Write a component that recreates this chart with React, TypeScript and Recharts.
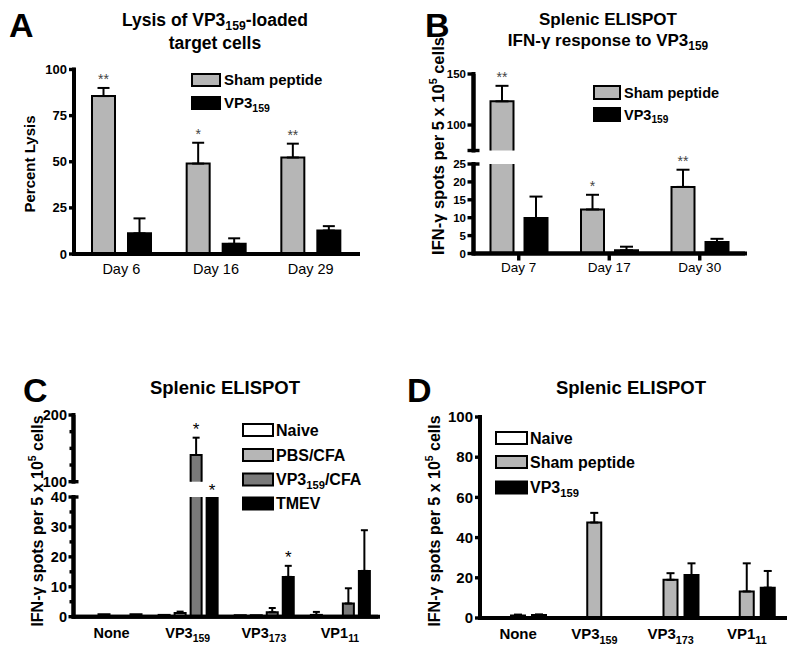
import React from 'react';
import { BarChart, Bar, XAxis, YAxis, ErrorBar } from 'recharts';

const FONT = "'Liberation Sans', Arial, Helvetica, sans-serif";
const LIGHT = '#b6b6b6';
const DARK = '#7a7a7a';

// ---------- Panel A ----------
const daysA = ['Day 6', 'Day 16', 'Day 29'];
const shamA = [85.6, 49.0, 52.3];
const shamAErr = [4.4, 11.3, 7.5];
const vp3A = [11.2, 5.5, 12.7];
const vp3AErr = [8.1, 3.0, 2.4];
const sigA = ['**', '*', '**'];
const ticksA = [0, 25, 50, 75, 100];

// ---------- Panel B ----------
const daysB = ['Day 7', 'Day 17', 'Day 30'];
const shamB = [123.2, 12.3, 18.6];
const shamBErr = [15.2, 4.1, 4.8];
const vp3B = [9.9, 0.9, 3.2];
const vp3BErr = [6.0, 1.0, 0.9];
const sigB = ['**', '*', '**'];
const ticksBUpper = [75, 100, 150];
const ticksBLower = [0, 5, 10, 15, 20, 25];

// ---------- Panels C & D categories ----------
const peptideNames = ['None', 'VP3', 'VP3', 'VP1'];
const peptideSubs = ['', '159', '173', '11'];
const peptideCats = peptideNames.map((n, i) => n + peptideSubs[i]);

// ---------- Panel C ----------
const naiveC = [0, 0.6, 0.5, 0.6];
const naiveCErr = [0, 0, 0, 1.0];
const pbsC = [0.8, 1.2, 0.5, 0];
const pbsCErr = [0, 0.5, 0, 0];
const vp3cfaC = [0, 140, 1.5, 4.4];
const vp3cfaCErr = [0, 26, 1.4, 5.1];
const tmevC = [0.8, 70, 13.3, 15.3];
const tmevCErr = [0, 0, 3.7, 13.6];
const sigVp3cfaC = ['', '*', '', ''];
const sigTmevC = ['', '*', '*', ''];
const ticksCUpper = [100, 125, 150, 175, 200];
const ticksCLower = [0, 5, 10, 15, 20, 25, 30, 35, 40];

// ---------- Panel D ----------
const naiveD = [0, 0.5, 0.5, 0];
const naiveDErr = [0, 0, 0, 0];
const shamD = [1.2, 47.5, 19.0, 13.2];
const shamDErr = [0.5, 4.8, 3.3, 14.0];
const vp3D = [1.5, 0, 21.4, 15.1];
const vp3DErr = [0.3, 0, 5.8, 8.3];
const ticksD = [0, 20, 40, 60, 80, 100];

type Seg = { role: 'single' | 'upper' | 'lower'; min: number; max: number; upperMin?: number };
type Series = {
  key: string; name: string; sub?: string; tail?: string;
  values: number[]; errs: number[]; sig?: string[]; fill: string;
};
type StarStyle = { fs: number; gap: number; clipGap: number; color: string };

const seriesA: Series[] = [
  { key: 'sham', name: 'Sham peptide', values: shamA, errs: shamAErr, sig: sigA, fill: LIGHT },
  { key: 'vp3', name: 'VP3', sub: '159', values: vp3A, errs: vp3AErr, fill: '#000' },
];
const seriesB: Series[] = [
  { key: 'sham', name: 'Sham peptide', values: shamB, errs: shamBErr, sig: sigB, fill: LIGHT },
  { key: 'vp3', name: 'VP3', sub: '159', values: vp3B, errs: vp3BErr, fill: '#000' },
];
const seriesC: Series[] = [
  { key: 'naive', name: 'Naive', values: naiveC, errs: naiveCErr, fill: '#fff' },
  { key: 'pbs', name: 'PBS/CFA', values: pbsC, errs: pbsCErr, fill: LIGHT },
  { key: 'vp3cfa', name: 'VP3', sub: '159', tail: '/CFA', values: vp3cfaC, errs: vp3cfaCErr, sig: sigVp3cfaC, fill: DARK },
  { key: 'tmev', name: 'TMEV', values: tmevC, errs: tmevCErr, sig: sigTmevC, fill: '#000' },
];
const seriesD: Series[] = [
  { key: 'naive', name: 'Naive', values: naiveD, errs: naiveDErr, fill: '#fff' },
  { key: 'sham', name: 'Sham peptide', values: shamD, errs: shamDErr, fill: LIGHT },
  { key: 'vp3', name: 'VP3', sub: '159', values: vp3D, errs: vp3DErr, fill: '#000' },
];

function buildData(cats: string[], series: Series[], seg: Seg) {
  return cats.map((cat, i) => {
    const row: Record<string, any> = { cat };
    series.forEach((s) => {
      const v = s.values[i];
      const e = s.errs[i];
      let drawn: number | null = v;
      let openTop = false;
      let openBottom = false;
      let hasErr = e > 0;
      let sig = s.sig ? s.sig[i] : '';
      if (seg.role === 'upper') {
        if (v > seg.min) openBottom = true;
        else { drawn = null; hasErr = false; sig = ''; }
      } else if (seg.role === 'lower' && v > seg.max) {
        drawn = seg.max; openTop = true; hasErr = false;
        if (seg.upperMin !== undefined && v > seg.upperMin) sig = '';
      }
      row[s.key] = drawn;
      row[s.key + '_eb'] = hasErr ? [0, e] : null;
      row[s.key + '_e'] = hasErr ? e : 0;
      row[s.key + '_s'] = sig;
      row[s.key + '_ot'] = openTop;
      row[s.key + '_ob'] = openBottom;
    });
    return row;
  });
}

const makeShape = (key: string, base: number, star: StarStyle) => (props: any) => {
  const { x, y, width, height, payload, fill } = props;
  if (!payload || payload[key] == null || !(height > 0) || !(width > 0)) return <g />;
  const v = payload[key];
  const ppu = height / (v - base);
  const topY = y - payload[key + '_e'] * ppu;
  const x2 = x + width;
  const yb = y + height;
  let d: string;
  if (payload[key + '_ot']) d = `M${x},${y}V${yb}H${x2}V${y}`;
  else if (payload[key + '_ob']) d = `M${x},${yb}V${y}H${x2}V${yb}`;
  else d = `M${x},${y}H${x2}V${yb}H${x}Z`;
  const sig = payload[key + '_s'];
  return (
    <g>
      <rect x={x} y={y} width={width} height={height} fill={fill} />
      <path d={d} fill="none" stroke="#000" strokeWidth={2} />
      {sig ? (
        <text x={x + width / 2} y={topY - (payload[key + '_ot'] ? star.clipGap : star.gap)} textAnchor="middle"
          fontSize={star.fs} fill={star.color} fontFamily={FONT}>{sig}</text>
      ) : null}
    </g>
  );
};

type YTickCfg = { labels: number[]; caps?: number[]; len: number; minorLen: number; fs: number; gap: number; bold: boolean };
const makeYTick = (cfg: YTickCfg) => (props: any) => {
  const { x, y, payload } = props;
  const v = payload.value;
  const isLabel = cfg.labels.indexOf(v) >= 0;
  const isCap = cfg.caps ? cfg.caps.indexOf(v) >= 0 : false;
  const len = isLabel || isCap ? cfg.len : cfg.minorLen;
  const right = isCap ? x + cfg.len : x + 1;
  return (
    <g>
      <rect x={x - len} y={y - 1.7} width={right - (x - len)} height={3.4} fill="#000" />
      {isLabel ? (
        <text x={x - len - cfg.gap} y={y} dy={cfg.fs * 0.35} textAnchor="end" fontSize={cfg.fs}
          fontWeight={cfg.bold ? 'bold' : 'normal'} fontFamily={FONT} fill="#000">{v}</text>
      ) : null}
    </g>
  );
};

type XTickCfg = { fs: number; bold: boolean; baseline: number; tickLen?: number; cats: string[]; names: string[]; subs?: string[] };
const makeXTick = (cfg: XTickCfg) => (props: any) => {
  const { x, y, payload } = props;
  const i = cfg.cats.indexOf(payload.value);
  const name = i >= 0 ? cfg.names[i] : String(payload.value);
  const sub = cfg.subs && i >= 0 ? cfg.subs[i] : '';
  return (
    <g>
      {cfg.tickLen ? <rect x={x - 1.7} y={y} width={3.4} height={cfg.tickLen} fill="#000" /> : null}
      <text x={x} y={y + cfg.baseline} textAnchor="middle" fontSize={cfg.fs} fontWeight={cfg.bold ? 'bold' : 'normal'}
        fontFamily={FONT} fill="#000">
        <tspan>{name}</tspan>
        {sub ? <tspan dy={cfg.fs * 0.3} fontSize={cfg.fs * 0.72}>{sub}</tspan> : null}
      </text>
    </g>
  );
};

type Box = { left: number; top: number; w: number; h: number };
type Plot = { x0: number; x1: number; y0: number; y1: number };

function SegChart(p: {
  box: Box; plot: Plot; cats: string[]; series: Series[]; seg: Seg; yTicks: number[];
  yTick: (props: any) => any; xTick?: (props: any) => any; barSize: number; barGap: number; capW: number; star: StarStyle;
}) {
  const { box, plot, seg } = p;
  const data = buildData(p.cats, p.series, seg);
  const base = seg.role === 'upper' ? seg.min : 0;
  const yW = 40;
  const showX = !!p.xTick;
  const xH = showX ? 30 : 0;
  const margin = {
    left: plot.x0 - box.left - yW,
    right: box.left + box.w - plot.x1,
    top: plot.y0 - box.top,
    bottom: box.top + box.h - plot.y1 - xH,
  };
  const axisLine = { stroke: '#000', strokeWidth: 4 };
  return (
    <div style={{ position: 'absolute', left: box.left, top: box.top, width: box.w, height: box.h }}>
      <BarChart width={box.w} height={box.h} data={data} margin={margin} barGap={p.barGap}>
        <XAxis dataKey="cat" hide={!showX} height={xH} interval={0} tickSize={0} tickMargin={0} tickLine={false}
          axisLine={axisLine} tick={showX ? p.xTick : false} />
        <YAxis type="number" domain={[seg.min, seg.max]} ticks={p.yTicks} interval={0} width={yW} tickSize={0}
          tickMargin={0} tickLine={false} axisLine={axisLine} tick={p.yTick} />
        {p.series.map((s) => (
          <Bar key={s.key} dataKey={s.key} fill={s.fill} barSize={p.barSize} isAnimationActive={false}
            shape={makeShape(s.key, base, p.star)}>
            <ErrorBar dataKey={s.key + '_eb'} width={p.capW} stroke="#000" strokeWidth={2} direction="y" />
          </Bar>
        ))}
      </BarChart>
    </div>
  );
}

function Rich({ name, sub, tail, fs }: { name: string; sub?: string; tail?: string; fs: number }) {
  return (
    <>
      <tspan>{name}</tspan>
      {sub ? <tspan dy={fs * 0.25} fontSize={fs * 0.7}>{sub}</tspan> : null}
      {sub && tail ? <tspan dy={-fs * 0.25} fontSize={fs}>{tail}</tspan> : null}
    </>
  );
}

function LegendBlock({ x, ys, w, h, textX, fs, series }: { x: number; ys: number[]; w: number; h: number; textX: number; fs: number; series: Series[] }) {
  return (
    <g>
      {series.map((s, i) => (
        <g key={s.key}>
          <rect x={x} y={ys[i]} width={w} height={h} fill={s.fill} stroke="#000" strokeWidth={2} />
          <text x={textX} y={ys[i] + h / 2 + fs * 0.36} fontSize={fs} fontWeight="bold" fontFamily={FONT} fill="#000">
            <Rich name={s.name} sub={s.sub} tail={s.tail} fs={fs} />
          </text>
        </g>
      ))}
    </g>
  );
}

function SpotsLabel({ cx, cy, fs }: { cx: number; cy: number; fs: number }) {
  return (
    <text transform={`translate(${cx},${cy}) rotate(-90)`} textAnchor="middle" fontSize={fs} fontWeight="bold" fontFamily={FONT}>
      <tspan dy={fs * 0.35}>IFN-γ spots per 5 x 10</tspan>
      <tspan dy={-fs * 0.4} fontSize={fs * 0.65}>5</tspan>
      <tspan dy={fs * 0.4} fontSize={fs}> cells</tspan>
    </text>
  );
}

// Axis frame reinforcement along each panel's plot edges
function Frame({ plot, xAxis = true }: { plot: Plot; xAxis?: boolean }) {
  return (
    <g stroke="#000" strokeWidth={4} strokeLinecap="square">
      <line x1={plot.x0} x2={plot.x0} y1={plot.y0} y2={plot.y1} />
      {xAxis ? <line x1={plot.x0} x2={plot.x1} y1={plot.y1} y2={plot.y1} /> : null}
    </g>
  );
}

const starAB: StarStyle = { fs: 14, gap: 4, clipGap: 2, color: '#444' };
const starC: StarStyle = { fs: 17, gap: 3, clipGap: 1.5, color: '#000' };

export default function App() {
  const boxA = { left: 0, top: 0, w: 400, h: 300 };
  const plotA = { x0: 74, x1: 358, y0: 69.5, y1: 254 };
  const boxB = { left: 400, top: 0, w: 394, h: 300 };
  const plotBu = { x0: 473.5, x1: 745, y0: 74, y1: 150.5 };
  const plotBl = { x0: 473.5, x1: 745, y0: 164, y1: 253.5 };
  const boxC = { left: 0, top: 310, w: 400, h: 340 };
  const plotCu = { x0: 73.5, x1: 378, y0: 415, y1: 481.7 };
  const plotCl = { x0: 73.5, x1: 378, y0: 497, y1: 616.7 };
  const boxD = { left: 400, top: 310, w: 394, h: 340 };
  const plotD = { x0: 480, x1: 785, y0: 417, y1: 618 };

  return (
    <div style={{ position: 'absolute', left: 0, top: 0, width: 794, height: 650, background: '#fff', fontFamily: FONT }}>
      <SegChart box={boxD} plot={plotD} cats={peptideCats} series={seriesD} seg={{ role: 'single', min: 0, max: 100 }}
        yTicks={ticksD} yTick={makeYTick({ labels: ticksD, len: 5, minorLen: 4, fs: 15, gap: 2, bold: true })}
        xTick={makeXTick({ fs: 15, bold: true, baseline: 21, cats: peptideCats, names: peptideNames, subs: peptideSubs })}
        barSize={14} barGap={7} capW={4} star={starC} />

      <SegChart box={boxC} plot={plotCu} cats={peptideCats} series={seriesC} seg={{ role: 'upper', min: 100, max: 200 }}
        yTicks={ticksCUpper} yTick={makeYTick({ labels: [100, 200], caps: [100], len: 5, minorLen: 4, fs: 14.5, gap: 1.5, bold: true })}
        barSize={11} barGap={5} capW={3.5} star={starC} />
      <SegChart box={boxC} plot={plotCl} cats={peptideCats} series={seriesC} seg={{ role: 'lower', min: 0, max: 40, upperMin: 100 }}
        yTicks={ticksCLower} yTick={makeYTick({ labels: [0, 10, 20, 30, 40], caps: [40], len: 5, minorLen: 4, fs: 14.5, gap: 1.5, bold: true })}
        xTick={makeXTick({ fs: 14.5, bold: true, baseline: 21, cats: peptideCats, names: peptideNames, subs: peptideSubs })}
        barSize={11} barGap={5} capW={3.5} star={starC} />

      <SegChart box={boxB} plot={plotBu} cats={daysB} series={seriesB} seg={{ role: 'upper', min: 75, max: 150 }}
        yTicks={ticksBUpper} yTick={makeYTick({ labels: [100, 150], caps: [75], len: 6, minorLen: 4, fs: 11.5, gap: 1.5, bold: true })}
        barSize={23} barGap={11} capW={6.5} star={starAB} />
      <SegChart box={boxB} plot={plotBl} cats={daysB} series={seriesB} seg={{ role: 'lower', min: 0, max: 25, upperMin: 75 }}
        yTicks={ticksBLower} yTick={makeYTick({ labels: ticksBLower, caps: [25], len: 6, minorLen: 4, fs: 11.5, gap: 1.5, bold: true })}
        xTick={makeXTick({ fs: 13.5, bold: false, baseline: 18, tickLen: 7, cats: daysB, names: daysB })}
        barSize={23} barGap={11} capW={6.5} star={starAB} />

      <SegChart box={boxA} plot={plotA} cats={daysA} series={seriesA} seg={{ role: 'single', min: 0, max: 100 }}
        yTicks={ticksA} yTick={makeYTick({ labels: ticksA, len: 5, minorLen: 5, fs: 13, gap: 2, bold: true })}
        xTick={makeXTick({ fs: 14.5, bold: false, baseline: 20, cats: daysA, names: daysA })}
        barSize={23} barGap={13} capW={6} star={starAB} />

      <svg width={794} height={650} style={{ position: 'absolute', left: 0, top: 0, pointerEvents: 'none' }}>
        <Frame plot={plotA} />
        <Frame plot={plotBu} xAxis={false} />
        <Frame plot={plotBl} />
        <Frame plot={plotCu} xAxis={false} />
        <Frame plot={plotCl} />
        <Frame plot={plotD} />
        <g fontFamily={FONT} fontWeight="bold" fill="#000">
          <text x={9} y={37} fontSize={34}>A</text>
          <text x={425} y={37} fontSize={34}>B</text>
          <text x={23} y={402} fontSize={34}>C</text>
          <text x={407} y={402} fontSize={34}>D</text>

          <text x={215} y={25.5} fontSize={17.5} textAnchor="middle"><Rich name="Lysis of VP3" sub="159" tail="-loaded" fs={17.5} /></text>
          <text x={215} y={49} fontSize={17.5} textAnchor="middle">target cells</text>
          <text x={608} y={25} fontSize={17} textAnchor="middle">Splenic ELISPOT</text>
          <text x={608} y={45.5} fontSize={17} textAnchor="middle"><Rich name="IFN-γ response to VP3" sub="159" fs={17} /></text>
          <text x={225} y={394} fontSize={18.5} textAnchor="middle">Splenic ELISPOT</text>
          <text x={631} y={394} fontSize={18.5} textAnchor="middle">Splenic ELISPOT</text>

          <text transform="translate(30,164) rotate(-90)" textAnchor="middle" fontSize={15} dy={15 * 0.35}>Percent Lysis</text>
        </g>
        <SpotsLabel cx={438} cy={146} fs={16.5} />
        <SpotsLabel cx={37} cy={521} fs={16} />
        <SpotsLabel cx={434} cy={521} fs={16} />

        <LegendBlock x={192} ys={[74, 97]} w={28} h={12} textX={224} fs={15} series={seriesA} />
        <LegendBlock x={594} ys={[86, 108]} w={26} h={13} textX={624} fs={14.5} series={seriesB} />
        <LegendBlock x={243} ys={[424, 449, 473.5, 497.5]} w={30} h={12} textX={276} fs={16} series={seriesC} />
        <LegendBlock x={496} ys={[432, 456, 481.5]} w={31} h={12} textX={530} fs={16} series={seriesD} />
      </svg>
    </div>
  );
}
